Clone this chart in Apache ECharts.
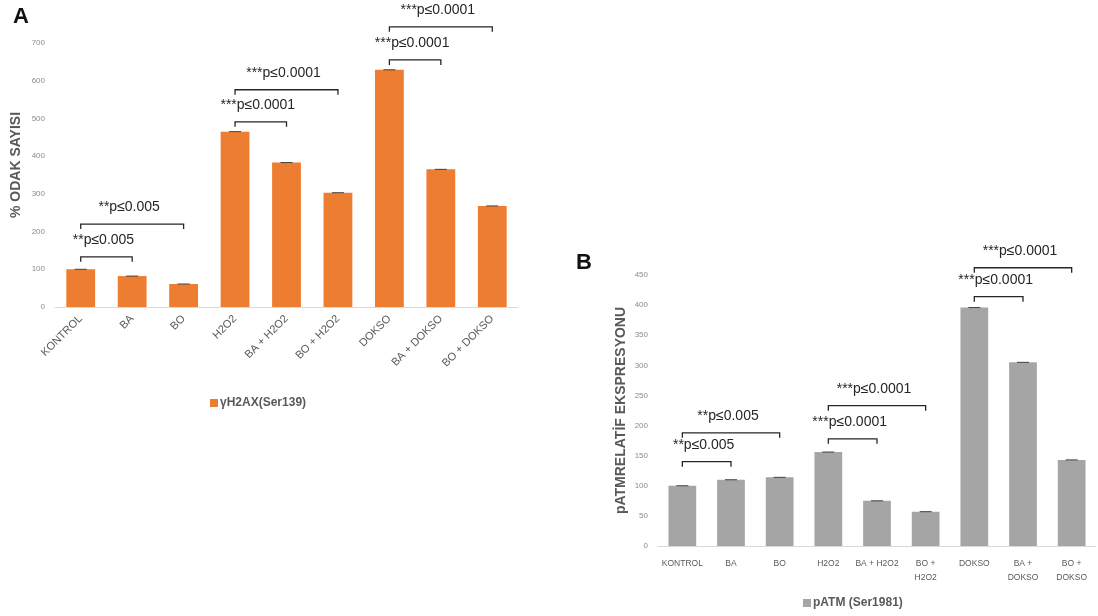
<!DOCTYPE html>
<html>
<head>
<meta charset="utf-8">
<script src="https://cdn.jsdelivr.net/npm/echarts@6/dist/echarts.min.js"></script>
<style>html,body{margin:0;padding:0;background:#fff}#c{width:1098px;height:616px}</style>
</head>
<body>
<div id="c"></div>
<script>
const categoriesA = ['KONTROL','BA','BO','H2O2','BA + H2O2','BO + H2O2','DOKSO','BA + DOKSO','BO + DOKSO'];
const valuesA = [100, 82, 61, 465, 383, 303, 629, 365, 268];
const categoriesB = ['KONTROL','BA','BO','H2O2','BA + H2O2','BO +\nH2O2','DOKSO','BA +\nDOKSO','BO +\nDOKSO'];
const valuesB = [100, 110, 114, 156, 75, 57, 396, 305, 143];
const seriesNameA = 'γH2AX(Ser139)';
const seriesNameB = 'pATM (Ser1981)';
const axisTitleA = '% ODAK SAYISI';
const axisTitleB = 'pATMRELATİF EKSPRESYONU';
// [fromIndex, toIndex, yLevel, label]
const bracketsA = [[0,1,133,'**p≤0.005'],[0,2,220,'**p≤0.005'],[3,4,491,'***p≤0.0001'],[3,5,576,'***p≤0.0001'],[6,7,655,'***p≤0.0001'],[6,8,743,'***p≤0.0001']];
const bracketsB = [[0,1,140,'**p≤0.005'],[0,2,188,'**p≤0.005'],[3,4,178,'***p≤0.0001'],[3,5,233,'***p≤0.0001'],[6,7,414,'***p≤0.0001'],[6,8,462,'***p≤0.0001']];

const FONT = 'Arial, "Liberation Sans", sans-serif';
const chart = echarts.init(document.getElementById('c'));

function bracketRender(params, api) {
  const y = api.value(2);
  const p1 = api.coord([api.value(0), y]);
  const p2 = api.coord([api.value(1), y]);
  const label = api.value(3);
  return {
    type: 'group',
    children: [
      { type: 'polyline', shape: { points: [[p1[0], p1[1] + 5], [p1[0], p1[1]], [p2[0], p2[1]], [p2[0], p2[1] + 5]] },
        style: { stroke: '#262626', lineWidth: 1.3, fill: null } },
      { type: 'text', x: (p1[0] + p2[0]) / 2 - 3, y: p1[1] - 17,
        style: { text: label, fill: '#262626', font: '14px ' + FONT, textAlign: 'center', textVerticalAlign: 'middle' } }
    ]
  };
}
function capRender(params, api) {
  const p = api.coord([api.value(0), api.value(1)]);
  return { type: 'line', shape: { x1: p[0] - 6, y1: p[1], x2: p[0] + 6, y2: p[1] }, style: { stroke: '#404040', lineWidth: 1 } };
}

const yLabel = { color: '#8c8c8c', fontSize: 8, fontFamily: FONT, margin: 10 };
const yName = { color: '#595959', fontSize: 14, fontWeight: 'bold', fontFamily: FONT };

chart.setOption({
  animation: false,
  backgroundColor: '#fff',
  title: [
    { text: 'A', left: 8, top: 1, textStyle: { fontSize: 22, fontWeight: 'bold', color: '#111', fontFamily: FONT } },
    { text: 'B', left: 571, top: 247, textStyle: { fontSize: 22, fontWeight: 'bold', color: '#111', fontFamily: FONT } }
  ],
  legend: [
    { data: [seriesNameA], left: 205, top: 392, icon: 'rect', itemWidth: 8, itemHeight: 8, itemGap: 2,
      textStyle: { color: '#595959', fontSize: 12, fontWeight: 'bold', fontFamily: FONT, padding: [0,0,0,-3] } },
    { data: [seriesNameB], left: 798, top: 592, icon: 'rect', itemWidth: 8, itemHeight: 8, itemGap: 2,
      textStyle: { color: '#595959', fontSize: 12, fontWeight: 'bold', fontFamily: FONT, padding: [0,0,0,-3] } }
  ],
  grid: [
    { left: 55, width: 463, top: 43, height: 264 },
    { left: 658, width: 438, top: 275, height: 271 }
  ],
  xAxis: [
    { type: 'category', gridIndex: 0, data: categoriesA,
      axisLine: { lineStyle: { color: '#d9d9d9' } }, axisTick: { show: false },
      axisLabel: { rotate: 45, interval: 0, color: '#595959', fontSize: 11, fontFamily: FONT, margin: 10 } },
    { type: 'category', gridIndex: 1, data: categoriesB,
      axisLine: { lineStyle: { color: '#d9d9d9' } }, axisTick: { show: false },
      axisLabel: { interval: 0, color: '#595959', fontSize: 8.5, fontFamily: FONT, margin: 11, lineHeight: 14 } }
  ],
  yAxis: [
    { type: 'value', gridIndex: 0, min: 0, max: 700, interval: 100,
      name: axisTitleA, nameLocation: 'middle', nameGap: 32, nameTextStyle: Object.assign({ padding: [0, 0, 0, 20] }, yName),
      axisLine: { show: false }, axisTick: { show: false }, splitLine: { show: false }, axisLabel: yLabel },
    { type: 'value', gridIndex: 1, min: 0, max: 450, interval: 50,
      name: axisTitleB, nameLocation: 'middle', nameGap: 30, nameTextStyle: yName,
      axisLine: { show: false }, axisTick: { show: false }, splitLine: { show: false }, axisLabel: yLabel }
  ],
  series: [
    { name: seriesNameA, type: 'bar', xAxisIndex: 0, yAxisIndex: 0, data: valuesA, barWidth: '56%',
      itemStyle: { color: '#ED7D31' } },
    { name: seriesNameB, type: 'bar', xAxisIndex: 1, yAxisIndex: 1, data: valuesB, barWidth: '57%',
      itemStyle: { color: '#A5A5A5' } },
    { type: 'custom', xAxisIndex: 0, yAxisIndex: 0, renderItem: capRender, clip: false, z: 5,
      data: valuesA.map((v, i) => [i, v]), encode: { x: 0, y: 1 } },
    { type: 'custom', xAxisIndex: 1, yAxisIndex: 1, renderItem: capRender, clip: false, z: 5,
      data: valuesB.map((v, i) => [i, v]), encode: { x: 0, y: 1 } },
    { type: 'custom', xAxisIndex: 0, yAxisIndex: 0, renderItem: bracketRender, clip: false, z: 6,
      data: bracketsA, encode: { x: [0, 1], y: 2 } },
    { type: 'custom', xAxisIndex: 1, yAxisIndex: 1, renderItem: bracketRender, clip: false, z: 6,
      data: bracketsB, encode: { x: [0, 1], y: 2 } }
  ]
});
</script>
</body>
</html>
